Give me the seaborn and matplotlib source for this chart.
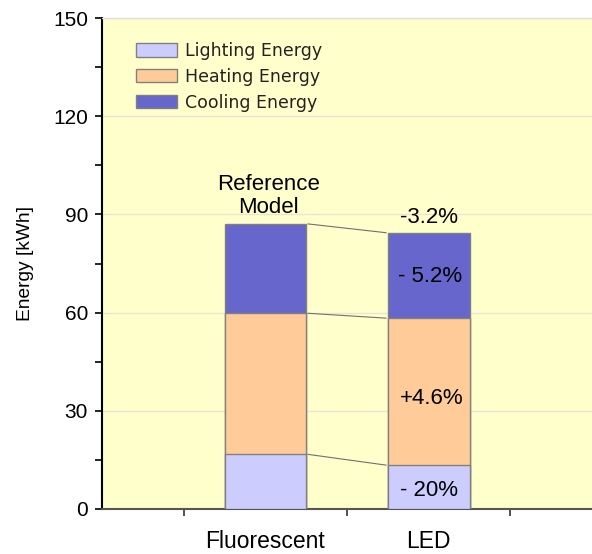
import matplotlib
matplotlib.use("Agg")
import matplotlib.pyplot as plt
import seaborn as sns
import pandas as pd
from matplotlib.patches import Patch
from matplotlib.ticker import MultipleLocator, FixedLocator

categories = ["Fluorescent", "LED"]
lighting = [16.7, 13.4]
heating = [43.1, 44.9]
cooling = [27.3, 26.1]
series_names = ["Lighting Energy", "Heating Energy", "Cooling Energy"]
changes_total = "-3.2%"
changes_parts = ["- 20%", "+4.6%", "- 5.2%"]

col_light = "#CCCCFF"
col_heat = "#FFCC99"
col_cool = "#6666CC"
bg = "#FFFFCC"

sns.set_theme(style="white")
plt.rcParams["font.family"] = ["Liberation Sans", "DejaVu Sans"]
plt.rcParams["text.color"] = "black"
plt.rcParams["axes.labelcolor"] = "black"
plt.rcParams["xtick.color"] = "black"
plt.rcParams["ytick.color"] = "black"

df = pd.DataFrame({
    "cat": categories,
    "light": lighting,
    "heat": heating,
    "cool": cooling,
})
df["lh"] = df["light"] + df["heat"]
df["total"] = df["lh"] + df["cool"]

fig = plt.figure(figsize=(5.92, 5.54), dpi=100)
ax = fig.add_axes([102 / 592, 1 - 509 / 554, 1 - 102 / 592, (509 - 18) / 554])
ax.set_facecolor(bg)

edge = "#808080"
for col, c in [("total", col_cool), ("lh", col_heat), ("light", col_light)]:
    sns.barplot(data=df, x="cat", y=col, color=c, width=0.5, ax=ax,
                edgecolor=edge, linewidth=1, saturation=1, zorder=3)

# connectors
g = 0.01
for key in ["total", "lh", "light"]:
    ax.plot([0.25 + g, 0.75 - g], [df[key][0], df[key][1]],
            color="#707070", lw=0.8, zorder=4)

ax.set_xlim(-1, 2)
ax.set_ylim(0, 150)
ax.yaxis.set_major_locator(MultipleLocator(30))
ax.yaxis.set_minor_locator(MultipleLocator(15))
ax.xaxis.set_major_locator(FixedLocator([0, 1]))
ax.set_xticklabels(categories)
ax.xaxis.set_minor_locator(FixedLocator([-0.5, 0.5, 1.5]))
ax.tick_params(axis="x", which="major", length=0, pad=15, labelsize=16.5, labelcolor="black")
ax.tick_params(axis="x", which="minor", length=5, width=1.2, direction="out", color="#333333", bottom=True)
ax.tick_params(axis="y", which="both", length=5, width=1.2, direction="out", color="black", left=True, pad=5)
ax.tick_params(axis="y", which="major", labelsize=15, labelcolor="black")

ax.grid(axis="y", which="major", color="#E6E6D6", lw=1, zorder=0)
ax.set_axisbelow(True)

ax.spines["right"].set_visible(False)
ax.spines["top"].set_color("#DDDDDD")
ax.spines["top"].set_linewidth(1)
ax.spines["left"].set_color("black")
ax.spines["left"].set_linewidth(1.5)
ax.spines["bottom"].set_color("#555555")
ax.spines["bottom"].set_linewidth(1.5)

ax.set_xlabel("")
ax.set_ylabel("Energy [kWh]", fontsize=13.8, color="black")
ax.yaxis.set_label_coords((26 - 102) / 490, 0.5)
ax.yaxis.label.set_va("center")

# annotations
fs = 16
ax.text(0.02, 95.6, "Reference\nModel", ha="center", va="center", fontsize=fs,
        linespacing=1.17, zorder=5, color="black")
ax.text(1.0, 89.2, changes_total, ha="center", va="center", fontsize=fs, zorder=5, color="black")
ax.text(1.01, 71.0, changes_parts[2], ha="center", va="center", fontsize=fs, zorder=5, color="black")
ax.text(1.02, 33.8, changes_parts[1], ha="center", va="center", fontsize=fs, zorder=5, color="black")
ax.text(1.0, 5.8, changes_parts[0], ha="center", va="center", fontsize=fs, zorder=5, color="black")

handles = [Patch(facecolor=c, edgecolor=edge, linewidth=1) for c in [col_light, col_heat, col_cool]]
leg = ax.legend(handles, series_names, loc="upper left",
                bbox_to_anchor=((136 - 102) / 490, (509 - 42) / 491),
                frameon=False, borderaxespad=0, borderpad=0,
                handlelength=2.35, handleheight=0.8, handletextpad=0.45,
                labelspacing=0.45, prop={"family": "DejaVu Sans", "size": 12.5})
for t in leg.get_texts():
    t.set_color("#222222")

fig.savefig("out.png", dpi=100, facecolor="white")
